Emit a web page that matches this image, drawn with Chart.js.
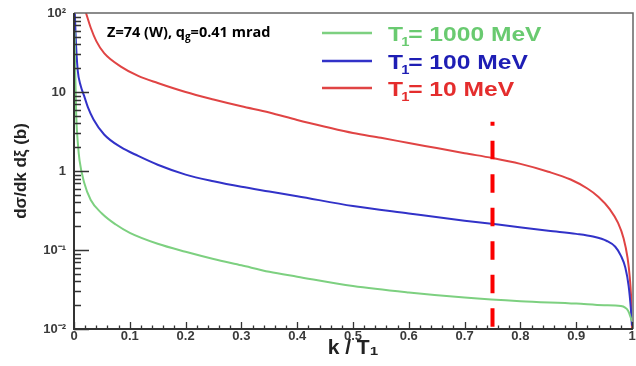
<!DOCTYPE html>
<html>
<head>
<meta charset="utf-8">
<script src="https://cdn.jsdelivr.net/npm/chart.js@4/dist/chart.umd.min.js"></script>
<style>
  html, body { margin: 0; padding: 0; background: #fff; }
  #wrap { width: 636px; height: 366px; }
</style>
</head>
<body>
<div id="wrap"><canvas id="chart" width="636" height="366"></canvas></div>
<script>
// cross section curves, k/T1 on x, d sigma / dk d xi in barn on y
var kRed   = [0.0215, 0.03, 0.04, 0.054, 0.084, 0.115, 0.15, 0.2, 0.25, 0.3, 0.35, 0.4, 0.45, 0.5, 0.55, 0.6, 0.65, 0.7, 0.75, 0.8, 0.85, 0.89, 0.92, 0.94, 0.96, 0.975, 0.985, 0.992, 0.996, 0.999, 1.0];
var sigRed = [100, 65, 44, 31, 21, 16, 13, 10, 8.05, 6.6, 5.5, 4.42, 3.63, 3.02, 2.63, 2.26, 1.95, 1.68, 1.46, 1.23, 0.98, 0.78, 0.6, 0.47, 0.33, 0.22, 0.14, 0.08, 0.045, 0.02, 0.01];

var kBlue   = [0.0015, 0.003, 0.0066, 0.012, 0.018, 0.025, 0.035, 0.054, 0.084, 0.115, 0.15, 0.2, 0.25, 0.3, 0.35, 0.4, 0.5, 0.6, 0.7, 0.76, 0.85, 0.9, 0.93, 0.955, 0.97, 0.98, 0.988, 0.994, 0.998, 1.0];
var sigBlue = [100, 50, 19, 12, 9, 6.4, 4.5, 2.9, 2.0, 1.55, 1.2, 0.9, 0.74, 0.63, 0.55, 0.48, 0.36, 0.29, 0.235, 0.21, 0.175, 0.16, 0.148, 0.13, 0.11, 0.085, 0.06, 0.035, 0.018, 0.011];

var kGreen   = [0.001, 0.002, 0.004, 0.007, 0.01, 0.018, 0.03, 0.05, 0.075, 0.1, 0.15, 0.2, 0.25, 0.3, 0.35, 0.4, 0.5, 0.6, 0.7, 0.8, 0.9, 0.95, 0.98, 0.993, 1.0];
var sigGreen = [60, 20, 5, 2.2, 1.35, 0.72, 0.43, 0.29, 0.21, 0.165, 0.12, 0.095, 0.077, 0.064, 0.053, 0.046, 0.035, 0.029, 0.025, 0.0225, 0.021, 0.02, 0.0195, 0.017, 0.0125];

// vertical marker
var kCut   = [0.75, 0.75];
var sigCut = [4.2, 0.01];

var seriesNames = ['1000 MeV', '100 MeV', '10 MeV'];
var yTicks = [0.01, 0.1, 1, 10, 100];
var yTickLabels = ['10\u207B\u00B2', '10\u207B\u00B9', '1', '10', '10\u00B2'];
var xTickLabels = ['0', '0.1', '0.2', '0.3', '0.4', '0.5', '0.6', '0.7', '0.8', '0.9', '1'];

function pts(xs, ys) {
  return xs.map(function (x, i) { return { x: x, y: ys[i] }; });
}

var colGreen = 'rgb(125,208,128)';
var colBlue = 'rgb(50,50,200)';
var colRed = 'rgb(224,68,68)';

// axis frame, inner ticks, legend and the label text
var decorate = {
  id: 'decorate',
  afterDatasetsDraw: function (chart) {
    var c = chart.ctx, a = chart.chartArea;
    var xs = chart.scales.x, ys = chart.scales.y;
    c.save();

    c.strokeStyle = '#666';
    c.lineWidth = 1.5;
    c.beginPath();
    c.moveTo(a.left, a.top); c.lineTo(a.right + 1, a.top); c.lineTo(a.right + 1, a.bottom);
    c.stroke();

    c.strokeStyle = '#333';
    c.lineWidth = 2;
    c.beginPath();
    c.moveTo(a.left, a.top); c.lineTo(a.left, a.bottom); c.lineTo(a.right + 1, a.bottom);
    c.stroke();

    // x ticks pointing up
    c.lineWidth = 1.3;
    c.beginPath();
    for (var i = 0; i <= 50; i++) {
      var px = Math.round(xs.getPixelForValue(i / 50)) + 0.5;
      var len = (i % 5 === 0) ? 7 : 3.5;
      c.moveTo(px, a.bottom); c.lineTo(px, a.bottom - len);
    }
    // y ticks pointing right
    for (var d = -2; d < 2; d++) {
      for (var m = 1; m <= 9; m++) {
        var py = Math.round(ys.getPixelForValue(m * Math.pow(10, d))) + 0.5;
        var l = (m === 1) ? 15 : 7;
        c.moveTo(a.left, py); c.lineTo(a.left + l, py);
      }
    }
    c.stroke();

    // legend, text a bit wide
    var rows = [33, 61, 88];
    var lineCols = [colGreen, colBlue, colRed];
    var textCols = ['rgb(105,202,112)', 'rgb(30,30,180)', 'rgb(228,45,45)'];
    for (var r = 0; r < 3; r++) {
      c.strokeStyle = lineCols[r];
      c.lineWidth = 2.5;
      c.beginPath(); c.moveTo(322, rows[r]); c.lineTo(372, rows[r]); c.stroke();
      c.save();
      c.translate(388, rows[r] + 8);
      c.scale(1.23, 1);
      c.fillStyle = textCols[r];
      c.textBaseline = 'alphabetic';
      c.font = 'bold 20px "Liberation Sans", Arial, sans-serif';
      var tx = 0;
      c.fillText('T', tx, 0);
      tx += c.measureText('T').width - 1.5;
      c.font = 'bold 12px "Liberation Sans", Arial, sans-serif';
      c.fillText('1', tx, 5);
      tx += c.measureText('1').width - 1;
      c.font = 'bold 20px "Liberation Sans", Arial, sans-serif';
      c.fillText('= ' + seriesNames[r], tx, 0);
      c.restore();
    }

    // target and angle note
    c.fillStyle = '#000';
    c.font = 'bold 14.5px "Open Sans", sans-serif';
    var nx = 107, ny = 37;
    c.fillText('Z=74 (W), q', nx, ny);
    nx += c.measureText('Z=74 (W), q').width;
    c.font = 'bold 10px "Open Sans", sans-serif';
    c.fillText('g', nx, ny + 3);
    nx += c.measureText('g').width;
    c.font = 'bold 14.5px "Open Sans", sans-serif';
    c.fillText('=0.41 mrad', nx, ny);

    c.restore();
  }
};

var ctx = document.getElementById('chart').getContext('2d');
var chart = new Chart(ctx, {
  type: 'scatter',
  data: {
    datasets: [
      { label: 'cut', data: pts(kCut, sigCut), showLine: true, borderColor: 'rgb(250,0,0)',
        borderWidth: 4, borderDash: [18.5, 15], borderDashOffset: 14.5, pointRadius: 0 },
      { label: 'T1= ' + seriesNames[0], data: pts(kGreen, sigGreen), showLine: true, borderColor: colGreen,
        borderWidth: 2, pointRadius: 0, cubicInterpolationMode: 'monotone' },
      { label: 'T1= ' + seriesNames[1], data: pts(kBlue, sigBlue), showLine: true, borderColor: colBlue,
        borderWidth: 2, pointRadius: 0, cubicInterpolationMode: 'monotone' },
      { label: 'T1= ' + seriesNames[2], data: pts(kRed, sigRed), showLine: true, borderColor: colRed,
        borderWidth: 2, pointRadius: 0, cubicInterpolationMode: 'monotone' }
    ]
  },
  options: {
    responsive: false,
    animation: false,
    layout: { padding: { top: 13, right: 4, left: 0, bottom: 0 } },
    plugins: { legend: { display: false }, tooltip: { enabled: false } },
    scales: {
      x: {
        type: 'linear', min: 0, max: 1,
        grid: { display: false, drawTicks: false },
        border: { display: false },
        ticks: {
          stepSize: 0.1, padding: 0, color: '#3a3a3a',
          font: { family: '"Liberation Sans", Arial, sans-serif', size: 13, weight: 'bold' },
          callback: function (v, i) { return xTickLabels[i]; }
        },
        title: {
          display: true, text: 'k / T\u2081', color: '#222', padding: { top: 0, bottom: 5 },
          font: { family: '"Liberation Sans", Arial, sans-serif', size: 21, weight: 'bold' }
        },
        afterFit: function (s) { s.height = 37; s.paddingLeft = 0; s.paddingRight = 0; }
      },
      y: {
        type: 'logarithmic', min: 0.01, max: 100,
        grid: { display: false, drawTicks: false },
        border: { display: false },
        afterBuildTicks: function (s) { s.ticks = yTicks.map(function (v) { return { value: v }; }); },
        ticks: {
          padding: 8, color: '#3a3a3a',
          font: { family: '"Liberation Sans", Arial, sans-serif', size: 13, weight: 'bold' },
          callback: function (v) { return yTickLabels[yTicks.indexOf(v)]; }
        },
        title: {
          display: true, text: 'd\u03C3/dk d\u03BE (b)', color: '#222', padding: { top: 11, bottom: 0 },
          font: { family: '"Liberation Sans", Arial, sans-serif', size: 17, weight: 'bold' }
        },
        afterFit: function (s) { s.width = 74; s.paddingTop = 0; s.paddingBottom = 0; }
      }
    }
  },
  plugins: [decorate]
});
</script>
</body>
</html>
